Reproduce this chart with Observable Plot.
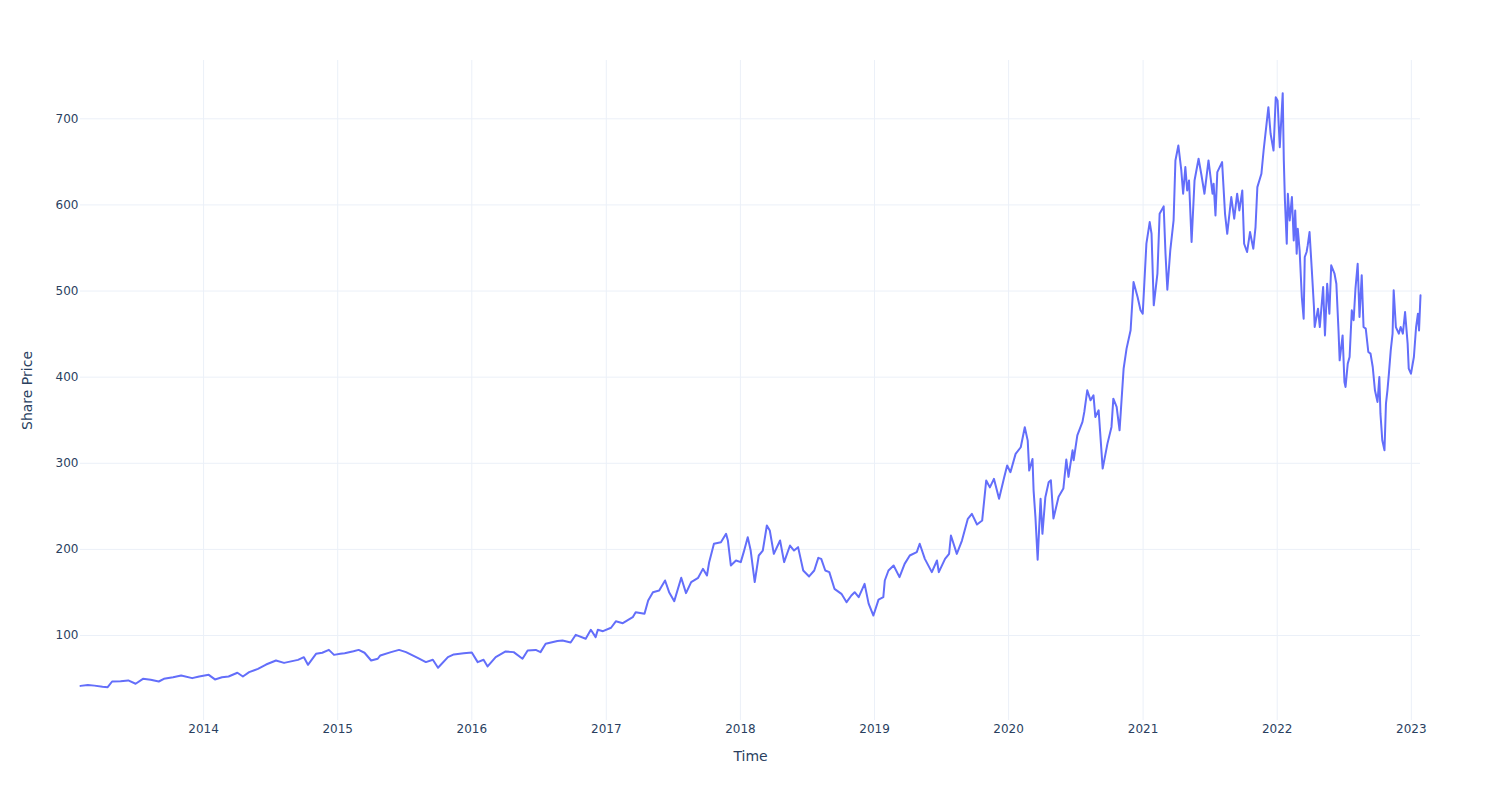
<!DOCTYPE html>
<html>
<head>
<meta charset="utf-8">
<script src="https://cdn.jsdelivr.net/npm/d3@7"></script>
<script src="https://cdn.jsdelivr.net/npm/@observablehq/plot@0.6"></script>
<style>
  html, body { margin: 0; padding: 0; background: #ffffff; }
  #chart svg { font-family: "DejaVu Sans", Verdana, sans-serif; }
</style>
</head>
<body>
<div id="chart"></div>
<script>
const dates = [
"2013-01-31","2013-02-20","2013-03-10","2013-04-01","2013-04-15","2013-04-27","2013-05-20","2013-06-10","2013-06-30","2013-07-20",
"2013-08-10","2013-09-01","2013-09-15","2013-10-10","2013-11-01","2013-12-01","2013-12-20","2014-01-15","2014-02-01","2014-02-20",
"2014-03-10","2014-04-03","2014-04-18","2014-05-05","2014-05-29","2014-06-20","2014-07-17","2014-08-08","2014-09-15","2014-10-01",
"2014-10-12","2014-11-03","2014-11-20","2014-12-08","2014-12-22","2015-01-08","2015-01-20","2015-02-13","2015-02-27","2015-03-15",
"2015-04-02","2015-04-20","2015-04-27","2015-05-26","2015-06-17","2015-07-06","2015-08-08","2015-08-29","2015-09-17","2015-10-01",
"2015-10-28","2015-11-13","2015-12-10","2016-01-01","2016-01-17","2016-02-02","2016-02-13","2016-03-06","2016-04-02","2016-04-24",
"2016-05-18","2016-06-01","2016-06-23","2016-07-06","2016-07-20","2016-08-21","2016-09-04","2016-09-26","2016-10-10","2016-11-06",
"2016-11-20","2016-12-03","2016-12-09","2016-12-23","2017-01-14","2017-01-27","2017-02-15","2017-03-14","2017-03-22","2017-04-15",
"2017-04-25","2017-05-08","2017-05-25","2017-06-10","2017-06-21","2017-07-05","2017-07-24","2017-08-06","2017-08-20","2017-09-08",
"2017-09-21","2017-10-02","2017-10-08","2017-10-21","2017-11-09","2017-11-23","2017-11-28","2017-12-06","2017-12-20","2018-01-02",
"2018-01-10","2018-01-21","2018-01-29","2018-02-09","2018-02-20","2018-03-03","2018-03-14","2018-03-22","2018-04-02","2018-04-19",
"2018-04-30","2018-05-16","2018-05-27","2018-06-07","2018-06-21","2018-07-07","2018-07-21","2018-08-01","2018-08-09","2018-08-20",
"2018-08-31","2018-09-14","2018-10-03","2018-10-17","2018-10-30","2018-11-08","2018-11-19","2018-12-05","2018-12-16","2018-12-29",
"2019-01-12","2019-01-25","2019-01-29","2019-02-08","2019-02-22","2019-03-10","2019-03-24","2019-04-07","2019-04-26","2019-05-04",
"2019-05-18","2019-06-06","2019-06-20","2019-06-25","2019-07-12","2019-07-23","2019-07-28","2019-08-13","2019-08-27","2019-09-12",
"2019-09-23","2019-10-07","2019-10-21","2019-11-01","2019-11-11","2019-11-22","2019-12-06","2019-12-20","2019-12-28","2020-01-06",
"2020-01-20","2020-02-03","2020-02-14","2020-02-22","2020-02-26","2020-03-06","2020-03-09","2020-03-14","2020-03-20","2020-03-28",
"2020-04-02","2020-04-10","2020-04-19","2020-04-25","2020-05-02","2020-05-16","2020-05-29","2020-06-06","2020-06-12","2020-06-23",
"2020-06-26","2020-07-06","2020-07-20","2020-07-25","2020-08-02","2020-08-11","2020-08-19","2020-08-24","2020-09-02","2020-09-13",
"2020-09-26","2020-10-07","2020-10-12","2020-10-21","2020-10-29","2020-11-09","2020-11-17","2020-11-28","2020-12-06","2020-12-17",
"2020-12-25","2020-12-31","2021-01-10","2021-01-19","2021-01-24","2021-01-30","2021-02-09","2021-02-15","2021-02-26","2021-03-03",
"2021-03-08","2021-03-16","2021-03-25","2021-03-30","2021-04-07","2021-04-15","2021-04-20","2021-04-26","2021-05-01","2021-05-06",
"2021-05-13","2021-05-21","2021-06-01","2021-06-09","2021-06-17","2021-06-28","2021-07-09","2021-07-12","2021-07-17","2021-07-22",
"2021-08-04","2021-08-12","2021-08-18","2021-08-29","2021-09-06","2021-09-14","2021-09-20","2021-09-28","2021-10-03","2021-10-11",
"2021-10-19","2021-10-28","2021-11-03","2021-11-08","2021-11-19","2021-11-25","2021-12-03","2021-12-08","2021-12-14","2021-12-22",
"2021-12-28","2022-01-02","2022-01-08","2022-01-16","2022-01-19","2022-01-22","2022-01-27","2022-01-30","2022-02-04","2022-02-10",
"2022-02-15","2022-02-19","2022-02-23","2022-02-26","2022-03-03","2022-03-09","2022-03-14","2022-03-17","2022-03-22","2022-03-25",
"2022-03-30","2022-04-05","2022-04-11","2022-04-13","2022-04-22","2022-04-27","2022-05-06","2022-05-11","2022-05-17","2022-05-23",
"2022-05-28","2022-06-06","2022-06-11","2022-06-17","2022-06-20","2022-06-28","2022-07-03","2022-07-06","2022-07-12","2022-07-17",
"2022-07-23","2022-07-28","2022-08-02","2022-08-08","2022-08-13","2022-08-19","2022-08-24","2022-08-30","2022-09-06","2022-09-12",
"2022-09-18","2022-09-24","2022-10-01","2022-10-06","2022-10-09","2022-10-14","2022-10-20","2022-10-24","2022-10-28","2022-11-01",
"2022-11-06","2022-11-11","2022-11-14","2022-11-20","2022-11-28","2022-12-03","2022-12-09","2022-12-15","2022-12-22","2022-12-25",
"2022-12-31","2023-01-08","2023-01-14","2023-01-19","2023-01-22","2023-01-26"
];
const prices = [
41.5,42.5,41.8,40.5,40,46.6,47,47.8,44,49.7,
48.5,46.6,49.7,51.5,53.6,50.5,52.5,54.3,49,51.5,
52.4,56.7,52.4,57.4,61.3,66.3,71,68.2,71.7,74.8,
66,78.7,80,83.3,77.5,78.7,79.5,81.8,83.3,80,
71,73,76.8,80.7,83.3,80.7,73.7,69.1,71.8,62.5,
74.9,78,79.5,80.3,69.1,71.8,64.1,74.9,81.5,80.7,
73,82.6,83.3,80.7,90.4,93.5,94.2,91.9,100.8,96.2,
106.6,98.1,106.6,105,109,116.5,114.3,121.3,127.1,125.2,
140.6,150.3,152.3,163.9,150.3,139.9,167,149.2,162,167,
177.4,169.7,185.2,206.5,208.4,218.1,210.3,181.3,187.1,185.2,
196.8,214.2,198.7,162,192.9,198.7,227.7,221.9,194.8,210.3,
185.2,204.5,198.7,202.6,175.5,168.6,175.5,190.2,189,175.5,
173.6,154.2,148.4,138.7,146.5,150.3,144.5,160,137,123.2,
141.6,144.5,163.9,175.5,181.3,167.8,183.2,192.9,196.8,206.5,
189,173.6,187.1,173.6,189,194.8,216.1,194.8,210.3,235.5,
241.3,228.9,233.5,280,272,281.9,258.7,283.8,297.4,289.6,
310.9,318.6,341.8,326.3,291.5,305,268.3,237.4,187.9,258.7,
218.1,260.6,278,280.3,235.8,261,270.6,304.3,284.2,315,
303.5,332.5,348,359.6,384.7,373.1,378.9,353.8,361.5,293.8,
322.8,342.2,375,365.4,338.3,409.9,433.1,454.4,510.4,493,
477.6,473.7,555,580.1,566.5,483.4,520.1,589.7,598.3,543.3,
501.5,547.2,582,651.6,669,640,613,643.9,616.8,628.4,
556.9,628.4,653.6,634.2,613,651.6,613,624.6,587.8,638.1,
649.7,589.7,566.5,609.1,584,613,593.6,616.8,554.9,545.3,
568.5,549.1,574.3,620.7,636.2,663.2,694.2,713.5,682.6,663.2,
725.1,721.3,667.1,729.8,651.6,605.2,554.9,613,582,609.1,
558.8,593.6,543.3,572.3,547.2,493,467.9,539.5,545.3,553,
568.5,525.9,481.4,458.2,479.5,458.2,504.6,448.5,508.5,473.7,
529.8,520.1,508.5,452.4,419.5,448.5,394.4,388.6,415.7,423.4,
477.6,466,502.7,531.7,469.8,518.2,458.2,456.3,429.2,427.3,
411.8,384.7,371.2,400.2,357.6,326.7,315.1,369.2,384.7,404,
431.1,450.5,500.8,458.2,450.5,458.2,450.5,475.6,438.9,409.9,
404,423.4,458.2,473.7,454.3,495
];
const yTicks = [100, 200, 300, 400, 500, 600, 700];
const xTickYears = [2014, 2015, 2016, 2017, 2018, 2019, 2020, 2021, 2022, 2023];
const xTitle = "Time";
const yTitle = "Share Price";

const data = dates.map((d, i) => ({ date: new Date(d + "T00:00:00Z"), price: prices[i] }));
const xTicks = xTickYears.map(y => new Date(Date.UTC(y, 0, 1)));

const chart = Plot.plot({
  width: 1500,
  height: 800,
  marginLeft: 80,
  marginRight: 80,
  marginTop: 60,
  marginBottom: 80,
  style: { fontFamily: "DejaVu Sans, Verdana, sans-serif", fontSize: "12px", color: "#2a3f5f", background: "#ffffff" },
  x: { type: "utc", label: null },
  y: { domain: [1.3, 767.7], label: null },
  marks: [
    Plot.gridX(xTicks, { stroke: "#EBF0F8", strokeOpacity: 1, strokeWidth: 1 }),
    Plot.gridY(yTicks, { stroke: "#EBF0F8", strokeOpacity: 1, strokeWidth: 1 }),
    Plot.axisX(xTicks, { tickSize: 0, tickPadding: 4, tickFormat: d3.utcFormat("%Y"), label: null, fontSize: 12 }),
    Plot.axisY(yTicks, { tickSize: 0, tickPadding: 2, label: null, fontSize: 12 }),
    Plot.lineY(data, { x: "date", y: "price", stroke: "#636efa", strokeWidth: 2, curve: "linear" }),
    Plot.text([xTitle], { frameAnchor: "bottom", dy: 36, textAnchor: "middle", lineAnchor: "middle", fontSize: 14, fill: "#2a3f5f" }),
    Plot.text([yTitle], { frameAnchor: "left", dx: -53, rotate: -90, textAnchor: "middle", lineAnchor: "middle", fontSize: 14, fill: "#2a3f5f" })
  ]
});
document.getElementById("chart").appendChild(chart);
</script>
</body>
</html>
